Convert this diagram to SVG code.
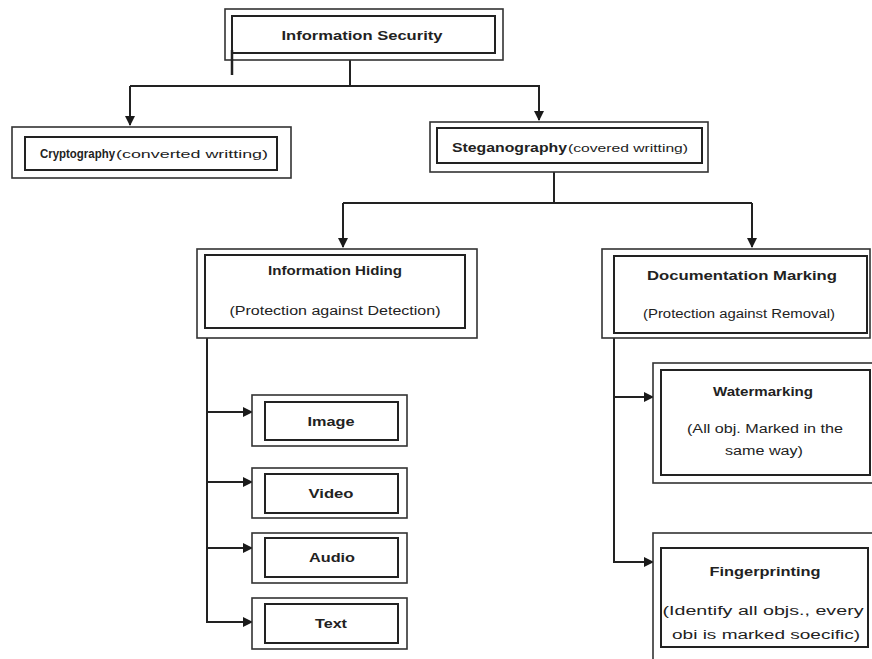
<svg xmlns="http://www.w3.org/2000/svg" width="872" height="659" viewBox="0 0 872 659">
<defs>
<marker id="ah" viewBox="0 0 10 10" refX="9" refY="5" markerWidth="10" markerHeight="10" markerUnits="userSpaceOnUse" orient="auto">
<path d="M0,0 L10,5 L0,10 z" fill="#1a1a1a"/>
</marker>
<style>
.o{fill:#fff;stroke:#333;stroke-width:1.6}
.i{fill:#fff;stroke:#222;stroke-width:2}
.c{fill:none;stroke:#222;stroke-width:2}
text{font-family:"Liberation Sans",Arial,sans-serif;fill:#222;text-anchor:middle}
.b{font-weight:bold;font-size:13px}
.n{font-size:12px}
.s{font-size:11px;text-anchor:start}
.bs{font-weight:bold;font-size:13px;text-anchor:start}
</style>
</defs>
<rect width="872" height="659" fill="#fff"/>
<g id="connectors">
<polyline class="c" points="350,60 350,86"/>
<polyline class="c" points="130,86 539,86 539,120" marker-end="url(#ah)"/>
<line class="c" x1="130" y1="86" x2="130" y2="125" marker-end="url(#ah)"/>
<line class="c" x1="554" y1="172" x2="554" y2="203"/>
<polyline class="c" points="343,203 752,203"/>
<line class="c" x1="343" y1="203" x2="343" y2="247" marker-end="url(#ah)"/>
<line class="c" x1="752" y1="203" x2="752" y2="247" marker-end="url(#ah)"/>
<polyline class="c" points="207,338 207,622 252,622" marker-end="url(#ah)"/>
<line class="c" x1="207" y1="412" x2="252" y2="412" marker-end="url(#ah)"/>
<line class="c" x1="207" y1="482" x2="252" y2="482" marker-end="url(#ah)"/>
<line class="c" x1="207" y1="548" x2="252" y2="548" marker-end="url(#ah)"/>
<polyline class="c" points="614,338 614,562 653,562" marker-end="url(#ah)"/>
<line class="c" x1="614" y1="397" x2="653" y2="397" marker-end="url(#ah)"/>
</g>
<g id="info-security">
<rect class="o" x="225" y="9" width="278" height="51"/>
<rect class="i" x="232" y="16" width="263" height="37"/>
<text class="b" x="362" y="40" textLength="161" lengthAdjust="spacingAndGlyphs">Information Security</text>
<line x1="232" y1="50" x2="232" y2="75" stroke="#222" stroke-width="2.5"/>
</g>
<g id="cryptography">
<rect class="o" x="12" y="127" width="279" height="51"/>
<rect class="i" x="25" y="137" width="252" height="33"/>
<text class="bs" x="40" y="158" textLength="75" lengthAdjust="spacingAndGlyphs">Cryptography</text>
<text class="s" x="116" y="158" textLength="152" lengthAdjust="spacingAndGlyphs">(converted writting)</text>
</g>
<g id="steganography">
<rect class="o" x="430" y="122" width="278" height="50"/>
<rect class="i" x="437" y="128" width="265" height="35"/>
<text class="bs" x="452" y="152" textLength="115" lengthAdjust="spacingAndGlyphs">Steganography</text>
<text class="s" x="568" y="152" textLength="120" lengthAdjust="spacingAndGlyphs">(covered writting)</text>
</g>
<g id="information-hiding">
<rect class="o" x="197" y="249" width="280" height="89"/>
<rect class="i" x="205" y="255" width="260" height="73"/>
<text class="b" x="335" y="275" textLength="134" lengthAdjust="spacingAndGlyphs">Information Hiding</text>
<text class="n" x="335" y="315" textLength="211" lengthAdjust="spacingAndGlyphs">(Protection against Detection)</text>
</g>
<g id="documentation-marking">
<rect class="o" x="602" y="249" width="268" height="89"/>
<rect class="i" x="614" y="256" width="253" height="77"/>
<text class="b" x="742" y="280" textLength="190" lengthAdjust="spacingAndGlyphs">Documentation Marking</text>
<text class="n" x="739" y="318" textLength="192" lengthAdjust="spacingAndGlyphs">(Protection against Removal)</text>
</g>
<g id="image">
<rect class="o" x="252" y="395" width="155" height="51"/>
<rect class="i" x="265" y="402" width="133" height="38"/>
<text class="b" x="331" y="426" textLength="47" lengthAdjust="spacingAndGlyphs">Image</text>
</g>
<g id="video">
<rect class="o" x="252" y="468" width="155" height="50"/>
<rect class="i" x="265" y="474" width="133" height="39"/>
<text class="b" x="331" y="498" textLength="45" lengthAdjust="spacingAndGlyphs">Video</text>
</g>
<g id="audio">
<rect class="o" x="252" y="533" width="155" height="50"/>
<rect class="i" x="265" y="538" width="133" height="39"/>
<text class="b" x="332" y="562" textLength="46" lengthAdjust="spacingAndGlyphs">Audio</text>
</g>
<g id="text">
<rect class="o" x="252" y="598" width="155" height="51"/>
<rect class="i" x="265" y="604" width="133" height="39"/>
<text class="b" x="331" y="628" textLength="32" lengthAdjust="spacingAndGlyphs">Text</text>
</g>
<g id="watermarking">
<rect class="o" x="653" y="363" width="222" height="120"/>
<rect class="i" x="661" y="370" width="209" height="105"/>
<text class="b" x="763" y="396" textLength="100" lengthAdjust="spacingAndGlyphs">Watermarking</text>
<text class="n" x="765" y="433" textLength="156" lengthAdjust="spacingAndGlyphs">(All obj. Marked in the</text>
<text class="n" x="764" y="455" textLength="78" lengthAdjust="spacingAndGlyphs">same way)</text>
</g>
<g id="fingerprinting">
<rect class="o" x="653" y="533" width="222" height="140"/>
<rect class="i" x="661" y="548" width="207" height="99"/>
<text class="b" x="765" y="576" textLength="111" lengthAdjust="spacingAndGlyphs">Fingerprinting</text>
<text class="n" x="763" y="615" textLength="201" lengthAdjust="spacingAndGlyphs">(Identify all objs., every</text>
<text class="n" x="766" y="639" textLength="188" lengthAdjust="spacingAndGlyphs">obi is marked soecific)</text>
</g>
</svg>
